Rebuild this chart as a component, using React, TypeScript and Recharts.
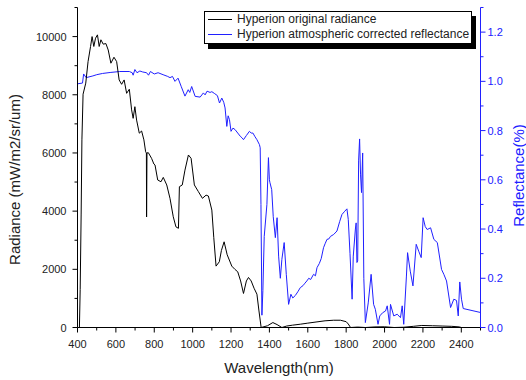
import { LineChart, Line, XAxis, YAxis, Legend } from "recharts";

const radianceNm = [
  410, 414, 419, 423, 429, 443, 455, 468, 476, 485, 494, 504, 513, 522, 534, 548, 560, 574, 590, 604,
  617, 630, 643, 656, 670, 682, 690, 699, 708, 722, 734, 746, 755, 759, 760, 762, 769, 786, 798, 804,
  818, 835, 847, 865, 882, 899, 913, 926, 931, 946, 960, 978, 992, 1009, 1030, 1051, 1070, 1082, 1100, 1110,
  1122, 1139, 1150, 1164, 1180, 1204, 1220, 1235, 1250, 1265, 1280, 1291, 1305, 1320, 1335, 1345, 1357, 1390, 1418, 1440,
  1465, 1490, 1520, 1561, 1600, 1648, 1690, 1735, 1770, 1800, 1811, 1823, 1860, 1900, 1950, 2000, 2050, 2100, 2150, 2194,
  2250, 2300, 2350, 2390, 2400,
];
const radianceVal = [
  0, 1300, 3900, 6450, 8020, 8400, 9140, 9660, 10000, 9660, 9945, 10060, 9660, 9890, 9740, 9760, 9540, 9085, 9290, 9140,
  8510, 8360, 8510, 8050, 8190, 7480, 7190, 7590, 7130, 6680, 6755, 6450, 6040, 6000, 3800, 6000, 6010, 5815, 5620, 5585,
  5070, 5010, 5160, 4900, 4440, 3806, 3460, 3410, 4840, 4900, 5410, 5930, 5815, 4900, 4670, 4440, 4550, 4520, 4036, 3100,
  2110, 2260, 2650, 2946, 2500, 2110, 2000, 1914, 1600, 1170, 1600, 1720, 1600, 1350, 1146, 600, 0, 60, 170, 100,
  0, 50, 80, 113, 150, 193, 230, 250, 250, 200, 120, 0, 15, 0, 20, 25, 0, 10, 40, 70,
  60, 50, 40, 20, 0,
];

const reflectanceNm = [
  400, 426, 432, 445, 460, 480, 500, 530, 570, 620, 670, 685, 690, 699, 710, 725, 740, 760, 770, 780,
  800, 820, 846, 870, 882, 895, 908, 924, 940, 960, 977, 985, 995, 1013, 1039, 1056, 1065, 1075, 1091, 1100,
  1115, 1129, 1140, 1152, 1162, 1169, 1178, 1185, 1192, 1200, 1210, 1221, 1235, 1248, 1258, 1265, 1280, 1296, 1305, 1314,
  1325, 1335, 1348, 1352, 1356, 1361, 1366, 1373, 1387, 1395, 1400, 1403, 1412, 1420, 1431, 1440, 1448, 1457, 1465, 1477,
  1488, 1500, 1512, 1522, 1535, 1548, 1561, 1575, 1585, 1595, 1605, 1615, 1630, 1640, 1648, 1660, 1670, 1682, 1690, 1700,
  1710, 1718, 1735, 1752, 1766, 1778, 1790, 1804, 1811, 1820, 1831, 1837, 1848, 1852, 1856, 1860, 1865, 1870, 1875, 1880,
  1886, 1892, 1900, 1915, 1930, 1943, 1952, 1966, 1975, 1990, 2005, 2014, 2026, 2031, 2048, 2066, 2083, 2092, 2100, 2114,
  2120, 2134, 2148, 2165, 2178, 2191, 2201, 2212, 2222, 2240, 2257, 2275, 2297, 2309, 2323, 2344, 2361, 2375, 2384, 2392,
  2401, 2410, 2500,
];
const reflectanceVal = [
  0.99, 0.993, 1.03, 1.015, 1.018, 1.022, 1.027, 1.032, 1.036, 1.04, 1.04, 1.035, 1.025, 1.048, 1.035, 1.042, 1.038, 1.035, 1.025, 1.04,
  1.03, 1.035, 1.027, 1.02, 1.015, 1.02, 1.0, 1.013, 0.98, 0.94, 0.966, 0.955, 0.979, 0.939, 0.936, 0.953, 0.945, 0.96, 0.955, 0.958,
  0.95, 0.942, 0.912, 0.932, 0.915, 0.892, 0.817, 0.86, 0.844, 0.797, 0.81, 0.804, 0.79, 0.777, 0.77, 0.763, 0.78, 0.797, 0.79, 0.79,
  0.775, 0.763, 0.743, 0.73, 0.5, 0.05, 0.15, 0.37, 0.5, 0.69, 0.6, 0.588, 0.56, 0.45, 0.365, 0.446, 0.29, 0.2, 0.277, 0.345,
  0.216, 0.094, 0.135, 0.12, 0.13, 0.145, 0.162, 0.17, 0.18, 0.189, 0.2, 0.195, 0.216, 0.21, 0.243, 0.26, 0.28, 0.324, 0.34, 0.358,
  0.36, 0.37, 0.378, 0.392, 0.43, 0.459, 0.47, 0.482, 0.439, 0.3, 0.115, 0.29, 0.4, 0.425, 0.264, 0.27, 0.68, 0.766, 0.62, 0.548,
  0.709, 0.2, 0.02, 0.1, 0.216, 0.094, 0.074, 0.013, 0.047, 0.06, 0.067, 0.088, 0.013, 0.094, 0.047, 0.054, 0.04, 0.088, 0.013, 0.209,
  0.304, 0.229, 0.169, 0.338, 0.31, 0.284, 0.446, 0.41, 0.398, 0.405, 0.358, 0.345, 0.236, 0.216, 0.189, 0.081, 0.115, 0.11, 0.047, 0.185,
  0.115, 0.077, 0.061,
];

const xTicks = [400, 500, 600, 700, 800, 900, 1000, 1100, 1200, 1300, 1400, 1500, 1600, 1700, 1800, 1900, 2000, 2100, 2200, 2300, 2400, 2500];
const radianceTicks = [0, 1000, 2000, 3000, 4000, 5000, 6000, 7000, 8000, 9000, 10000, 11000];
const reflectanceTicks = [0, 0.1, 0.2, 0.3, 0.4, 0.5, 0.6, 0.7, 0.8, 0.9, 1.0, 1.1, 1.2, 1.3];

const radianceData = radianceNm.map((nm, i) => ({ nm, radiance: radianceVal[i] }));
const reflectanceData = reflectanceNm.map((nm, i) => ({ nm, reflectance: reflectanceVal[i] }));

const BLUE = "#2020ff";
const FONT = "'Liberation Sans', Arial, sans-serif";

function BottomTick({ x, y, payload }: any) {
  const v = payload.value;
  const major = v % 200 === 0;
  return (
    <g>
      <line x1={x} x2={x} y1={y} y2={y + (major ? 5 : 3)} stroke="#000" />
      {major && v <= 2400 && (
        <text x={x} y={y + 20.5} textAnchor="middle" fontSize={11} fontFamily={FONT} fill="#222">
          {v}
        </text>
      )}
    </g>
  );
}

function TopTick({ x, y, payload }: any) {
  const major = payload.value % 200 === 0;
  return <line x1={x} x2={x} y1={y} y2={y + (major ? 5 : 3)} stroke="#000" />;
}

function LeftTick({ x, y, payload }: any) {
  const v = payload.value;
  const major = v % 2000 === 0;
  return (
    <g>
      <line x1={x - (major ? 5 : 3)} x2={x} y1={y} y2={y} stroke="#000" />
      {major && (
        <text x={x - 11} y={y + 4} textAnchor="end" fontSize={11} fontFamily={FONT} fill="#222">
          {v}
        </text>
      )}
    </g>
  );
}

function RightTick({ x, y, payload }: any) {
  const v = payload.value;
  const major = Math.round(v * 10) % 2 === 0 && v < 1.25;
  return (
    <g>
      <line x1={x} x2={x + (major ? 5 : 3)} y1={y} y2={y} stroke={BLUE} />
      {major && (
        <text x={x + 7} y={y + 4} textAnchor="start" fontSize={11} fontFamily={FONT} fill={BLUE}>
          {v.toFixed(1)}
        </text>
      )}
    </g>
  );
}

function LeftTitle({ viewBox }: any) {
  const cx = viewBox.x + 14;
  const cy = viewBox.y + viewBox.height / 2 + 12;
  return (
    <text x={cx} y={cy} transform={`rotate(-90 ${cx} ${cy})`} textAnchor="middle" dominantBaseline="central"
      fontSize={15} fontFamily={FONT} fill="#222">
      Radiance (mW/m2/sr/um)
    </text>
  );
}

function RightTitle({ viewBox }: any) {
  const cx = viewBox.x + 37.5;
  const cy = viewBox.y + viewBox.height / 2 + 8;
  return (
    <text x={cx} y={cy} transform={`rotate(-90 ${cx} ${cy})`} textAnchor="middle" dominantBaseline="central"
      fontSize={15} fontFamily={FONT} fill={BLUE}>
      Reflectance(%)
    </text>
  );
}

function BottomTitle({ viewBox }: any) {
  return (
    <text x={viewBox.x + viewBox.width / 2} y={viewBox.y + 45.5} textAnchor="middle" fontSize={15} fontFamily={FONT} fill="#222">
      Wavelength(nm)
    </text>
  );
}

function LegendBox() {
  const rows = [
    { name: "Hyperion original radiance", color: "#000" },
    { name: "Hyperion atmospheric corrected reflectance", color: BLUE },
  ];
  return (
    <div
      style={{
        boxSizing: "border-box",
        width: 268,
        height: 33,
        border: "1px solid #000",
        background: "#fff",
        boxShadow: "4px 5px 0 #000",
        fontFamily: FONT,
        fontSize: 12,
        color: "#222",
      }}
    >
      {rows.map((r) => (
        <div key={r.name} style={{ display: "flex", alignItems: "center", height: 15, lineHeight: "15px", whiteSpace: "nowrap" }}>
          <span style={{ display: "inline-block", width: 24, height: 0, borderTop: `1px solid ${r.color}`, marginLeft: 3, marginRight: 5 }} />
          <span>{r.name}</span>
        </div>
      ))}
    </div>
  );
}

export default function App() {
  return (
    <div style={{ position: "absolute", left: 0, top: 0, background: "#fff" }}>
      <LineChart width={526} height={380} margin={{ top: 7.5, right: 0, bottom: 0, left: 0 }}>
        <XAxis
          xAxisId={0}
          dataKey="nm"
          type="number"
          domain={[400, 2500]}
          ticks={xTicks}
          interval={0}
          height={52.5}
          tickSize={0}
          tickMargin={0}
          tick={<BottomTick />}
          axisLine={{ stroke: "#000" }}
          tickLine={false}
          label={<BottomTitle />}
          allowDataOverflow
        />
        <XAxis
          xAxisId="top"
          orientation="top"
          dataKey="nm"
          type="number"
          domain={[400, 2500]}
          ticks={xTicks}
          interval={0}
          height={0}
          tickSize={0}
          tickMargin={0}
          tick={<TopTick />}
          axisLine={{ stroke: "#000" }}
          tickLine={false}
          allowDataOverflow
        />
        <YAxis
          yAxisId="left"
          type="number"
          domain={[0, 11000]}
          ticks={radianceTicks}
          interval={0}
          width={77.5}
          tickSize={0}
          tickMargin={0}
          tick={<LeftTick />}
          axisLine={{ stroke: "#000" }}
          tickLine={false}
          label={<LeftTitle />}
          allowDataOverflow
        />
        <YAxis
          yAxisId="right"
          orientation="right"
          type="number"
          domain={[0, 1.3]}
          ticks={reflectanceTicks}
          interval={0}
          width={45.5}
          tickSize={0}
          tickMargin={0}
          tick={<RightTick />}
          axisLine={{ stroke: BLUE }}
          tickLine={false}
          label={<RightTitle />}
          allowDataOverflow
        />
        <Legend
          layout="horizontal"
          verticalAlign="middle"
          align="center"
          wrapperStyle={{ left: 204, top: 11, width: 268, height: 33 }}
          content={<LegendBox />}
        />
        <Line
          data={reflectanceData}
          dataKey="reflectance"
          yAxisId="right"
          xAxisId={0}
          type="linear"
          stroke={BLUE}
          strokeWidth={1}
          dot={false}
          isAnimationActive={false}
          name="Hyperion atmospheric corrected reflectance"
        />
        <Line
          data={radianceData}
          dataKey="radiance"
          yAxisId="left"
          xAxisId={0}
          type="linear"
          stroke="#000"
          strokeWidth={1}
          dot={false}
          isAnimationActive={false}
          name="Hyperion original radiance"
        />
      </LineChart>
    </div>
  );
}
